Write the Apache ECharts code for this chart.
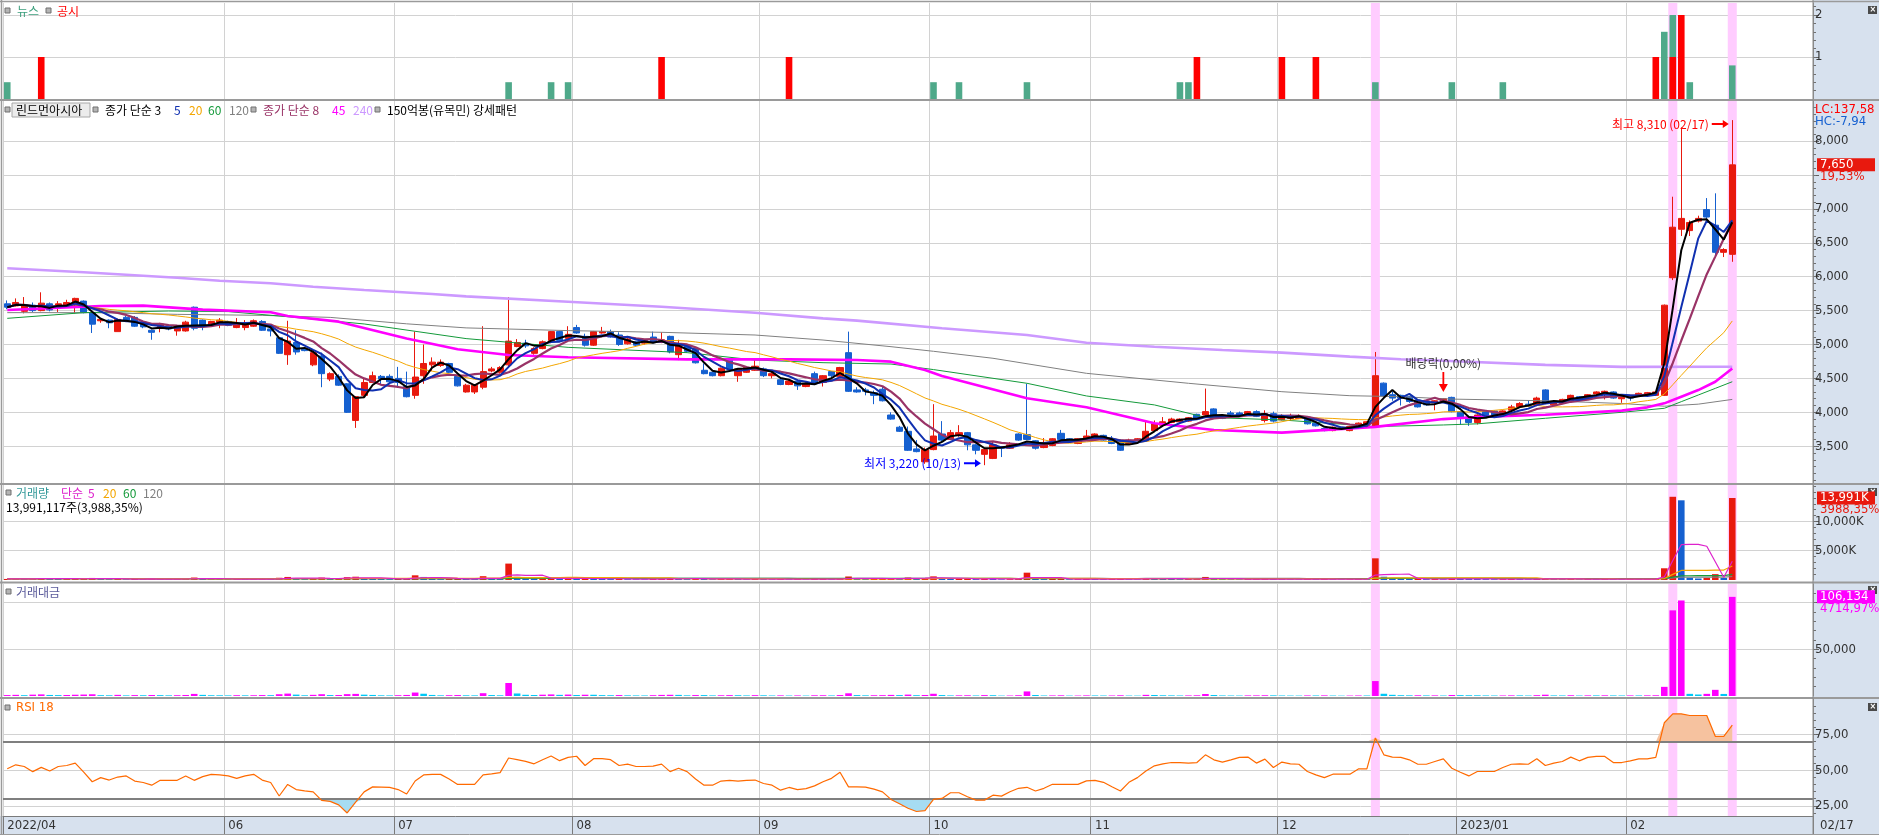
<!DOCTYPE html>
<html><head><meta charset="utf-8">
<script src="https://cdn.jsdelivr.net/npm/echarts@6/dist/echarts.min.js"></script>
<style>
html,body{margin:0;padding:0;background:#fff;}
#wrap{position:relative;width:1879px;height:837px;overflow:hidden;}
#rp{position:absolute;left:1813px;top:0;width:66px;height:816px;background:#d7e1ee;}
#xb{position:absolute;left:0;top:816px;width:1879px;height:18px;background:#d7e1ee;}
#c{position:absolute;left:0;top:0;width:1879px;height:837px;}
</style>
</head><body>
<div id="wrap"><div id="rp"></div><div id="xb"></div><div id="c"></div></div>
<script>
// ---------------- DATA ----------------
const dates = [
'2022/04/25','2022/04/26','2022/04/27','2022/04/28','2022/04/29',
'2022/05/02','2022/05/03','2022/05/04','2022/05/06','2022/05/09','2022/05/10','2022/05/11','2022/05/12','2022/05/13','2022/05/16','2022/05/17','2022/05/18','2022/05/19','2022/05/20','2022/05/23','2022/05/24','2022/05/25','2022/05/26','2022/05/27','2022/05/30','2022/05/31',
'2022/06/02','2022/06/03','2022/06/07','2022/06/08','2022/06/09','2022/06/10','2022/06/13','2022/06/14','2022/06/15','2022/06/16','2022/06/17','2022/06/20','2022/06/21','2022/06/22','2022/06/23','2022/06/24','2022/06/27','2022/06/28','2022/06/29','2022/06/30',
'2022/07/01','2022/07/04','2022/07/05','2022/07/06','2022/07/07','2022/07/08','2022/07/11','2022/07/12','2022/07/13','2022/07/14','2022/07/15','2022/07/18','2022/07/19','2022/07/20','2022/07/21','2022/07/22','2022/07/25','2022/07/26','2022/07/27','2022/07/28','2022/07/29',
'2022/08/01','2022/08/02','2022/08/03','2022/08/04','2022/08/05','2022/08/08','2022/08/09','2022/08/10','2022/08/11','2022/08/12','2022/08/16','2022/08/17','2022/08/18','2022/08/19','2022/08/22','2022/08/23','2022/08/24','2022/08/25','2022/08/26','2022/08/29','2022/08/30','2022/08/31',
'2022/09/01','2022/09/02','2022/09/05','2022/09/06','2022/09/07','2022/09/08','2022/09/13','2022/09/14','2022/09/15','2022/09/16','2022/09/19','2022/09/20','2022/09/21','2022/09/22','2022/09/23','2022/09/26','2022/09/27','2022/09/28','2022/09/29','2022/09/30',
'2022/10/04','2022/10/05','2022/10/06','2022/10/07','2022/10/11','2022/10/12','2022/10/13','2022/10/14','2022/10/17','2022/10/18','2022/10/19','2022/10/20','2022/10/21','2022/10/24','2022/10/25','2022/10/26','2022/10/27','2022/10/28','2022/10/31',
'2022/11/01','2022/11/02','2022/11/03','2022/11/04','2022/11/07','2022/11/08','2022/11/09','2022/11/10','2022/11/11','2022/11/14','2022/11/15','2022/11/16','2022/11/17','2022/11/18','2022/11/21','2022/11/22','2022/11/23','2022/11/24','2022/11/25','2022/11/28','2022/11/29','2022/11/30',
'2022/12/01','2022/12/02','2022/12/05','2022/12/06','2022/12/07','2022/12/08','2022/12/09','2022/12/12','2022/12/13','2022/12/14','2022/12/15','2022/12/16','2022/12/19','2022/12/20','2022/12/21','2022/12/22','2022/12/23','2022/12/26','2022/12/27','2022/12/28','2022/12/29',
'2023/01/02','2023/01/03','2023/01/04','2023/01/05','2023/01/06','2023/01/09','2023/01/10','2023/01/11','2023/01/12','2023/01/13','2023/01/16','2023/01/17','2023/01/18','2023/01/19','2023/01/20','2023/01/25','2023/01/26','2023/01/27','2023/01/30','2023/01/31',
'2023/02/01','2023/02/02','2023/02/03','2023/02/06','2023/02/07','2023/02/08','2023/02/09','2023/02/10','2023/02/13','2023/02/14','2023/02/15','2023/02/16','2023/02/17'
];
const monthTickDates  = ['2022/04/25','2022/06/02','2022/07/01','2022/08/01','2022/09/01','2022/10/04','2022/11/01','2022/12/01','2023/01/02','2023/02/01'];
const monthTickLabels = ['2022/04','06','07','08','09','10','11','12','2023/01','02'];

const opens = [
5600,5570,5490,5580,5500,5600,5550,5560,5620,5640,
5470,5350,5360,5190,5400,5400,5330,5210,5250,5270,
5200,5200,5550,5360,5280,5330,5340,5250,5250,5270,
5340,5230,5100,4850,5030,4930,4700,4830,4490,4530,
4420,3880,4250,4440,4530,4530,4500,4380,4250,4540,
4700,4690,4720,4530,4300,4300,4370,4610,4590,4700,
4970,5020,4870,4940,5060,5190,5090,5250,5120,4990,
5170,5190,5140,5010,5040,5020,5110,5030,5120,4850,
4990,4940,4620,4590,4540,4790,4540,4590,4620,4640,
4540,4480,4410,4460,4380,4570,4440,4600,4530,4880,
4330,4330,4290,4340,3960,3780,3720,3460,3270,3450,
3680,3600,3660,3700,3520,3380,3320,3490,3470,3680,
3670,3580,3480,3510,3690,3610,3540,3610,3610,3660,
3610,3590,3540,3590,3580,3730,3810,3850,3860,3870,
3970,3960,4050,3950,3990,3990,3970,4010,3880,3980,
3890,3910,3910,3930,3840,3760,3730,3770,3730,3790,
3810,3790,4430,4260,4250,4230,4180,4150,4140,4160,
4220,4010,3930,3850,4010,4020,3960,4030,4080,4120,
4100,4330,4110,4130,4160,4230,4200,4270,4290,4300,
4200,4230,4250,4260,4250,4250,5985,6700,6680,6820,
6990,6760,6360,6330];
const closes = [
5550,5620,5580,5500,5610,5510,5600,5620,5680,5470,
5300,5370,5320,5370,5360,5270,5260,5180,5300,5230,
5270,5330,5240,5280,5340,5360,5280,5310,5300,5350,
5210,5200,4870,5050,4890,4910,4880,4570,4570,4400,
4000,4230,4440,4540,4490,4450,4440,4230,4520,4720,
4740,4740,4590,4390,4400,4400,4600,4640,4660,5050,
5030,4980,4940,5040,5190,5060,5150,5170,4990,5190,
5190,5110,5000,5080,4990,5060,5030,5070,4890,4990,
4900,4730,4570,4540,4650,4640,4640,4660,4680,4540,
4570,4410,4460,4390,4420,4430,4540,4540,4660,4310,
4300,4310,4250,4170,3900,3720,3440,3420,3450,3650,
3590,3700,3700,3520,3440,3450,3520,3470,3520,3590,
3600,3470,3550,3610,3600,3580,3610,3650,3680,3590,
3540,3440,3590,3610,3720,3830,3860,3900,3900,3920,
3900,4010,3960,3910,3970,3950,4010,3940,3980,3870,
3950,3940,3940,3830,3800,3730,3780,3750,3790,3840,
3860,4540,4240,4210,4210,4160,4080,4110,4170,4200,
4010,3930,3850,3960,3950,3950,4020,4080,4130,4090,
4210,4130,4160,4190,4250,4200,4260,4300,4310,4210,
4220,4210,4280,4290,4300,5580,6730,6860,6800,6860,
6880,6360,6400,7650];
const highs = [
5650,5680,5700,5620,5770,5620,5640,5660,5690,5650,
5480,5390,5370,5380,5420,5420,5340,5220,5320,5290,
5280,5350,5560,5370,5350,5390,5350,5390,5360,5370,
5360,5240,5120,5350,5210,4960,4900,4880,4590,4560,
4430,4240,4510,4600,4550,4560,4670,4600,5190,5000,
4810,4780,4730,4550,4420,4410,5270,4670,4680,5700,
5080,5070,4960,5060,5200,5200,5270,5290,5160,5200,
5260,5220,5180,5100,5050,5080,5190,5180,5130,5070,
5000,4950,4720,4600,4660,4800,4650,4680,4790,4660,
4600,4490,4480,4480,4440,4600,4550,4610,4670,5190,
4370,4360,4320,4380,4000,3800,3790,3590,3480,4120,
3870,3740,3810,3710,3530,3470,3560,3500,3560,3690,
4420,3590,3620,3620,3740,3620,3620,3740,3690,3670,
3650,3600,3610,3620,3860,3880,3930,3920,3910,3930,
3980,4350,4060,3970,4020,4010,4020,4030,4030,4010,
3970,3980,3970,3940,3860,3770,3790,3780,3800,3850,
3870,4890,4440,4310,4260,4240,4190,4170,4180,4210,
4230,4020,3950,3970,4020,4030,4030,4110,4150,4180,
4230,4340,4170,4200,4260,4240,4270,4310,4320,4310,
4230,4240,4290,4300,4310,5590,7180,8200,6830,6900,
7160,7230,6420,8310];
const lows = [
5520,5560,5460,5480,5490,5490,5480,5540,5460,5460,
5170,5320,5240,5190,5350,5260,5240,5070,5180,5210,
5130,5190,5210,5210,5270,5240,5270,5240,5210,5260,
5200,5120,4860,4700,4850,4900,4680,4370,4460,4390,
3990,3770,4210,4430,4400,4430,4360,4220,4200,4420,
4610,4670,4580,4380,4290,4270,4340,4590,4570,4680,
4960,4950,4850,4930,5020,5040,5080,5160,4970,4980,
5160,5100,4980,5000,4980,5000,5020,5020,4870,4770,
4880,4720,4560,4530,4530,4620,4450,4580,4610,4520,
4500,4400,4400,4330,4370,4420,4380,4520,4520,4300,
4290,4250,4120,4160,3890,3710,3430,3410,3240,3440,
3550,3590,3640,3440,3380,3220,3310,3340,3460,3580,
3590,3450,3470,3500,3590,3570,3530,3600,3600,3580,
3530,3430,3520,3580,3570,3720,3800,3840,3850,3860,
3890,3950,3950,3900,3960,3940,3960,3930,3850,3850,
3880,3880,3900,3820,3790,3720,3720,3740,3720,3780,
3800,3780,4230,4170,4100,4140,4070,4100,4030,4150,
4000,3820,3800,3820,3940,3940,3950,4020,4070,4080,
4090,4120,4100,4120,4150,4190,4190,4260,4190,4200,
4140,4170,4240,4250,4240,4240,5950,6600,6600,6800,
6850,6290,6290,6220];

// long moving averages: [day index, value]
const ma45Pts  = [[0,5509],[11,5568],[16,5573],[23,5515],[31,5475],[33,5420],[39,5337],[47,5090],[53,4929],[59,4845],[66,4811],[80,4781],[92,4781],[100,4771],[104,4747],[108,4624],[110,4535],[120,4206],[127,4074],[135,3838],[142,3739],[150,3700],[161,3785],[169,3900],[173,3930],[181,3965],[190,4025],[193,4073],[195,4132],[197,4230],[199,4328],[201,4450],[203,4647]];
const ma60Pts  = [[0,5386],[9,5470],[19,5494],[26,5485],[33,5410],[42,5303],[54,5087],[66,4958],[80,4880],[88,4771],[96,4732],[104,4712],[109,4630],[120,4428],[127,4241],[135,4109],[141,3926],[150,3887],[161,3790],[169,3813],[173,3830],[181,3912],[190,4000],[195,4059],[197,4157],[199,4255],[201,4353],[203,4451]];
const ma120Pts = [[0,5470],[10,5470],[20,5445],[30,5430],[38,5400],[47,5305],[54,5245],[66,5205],[77,5180],[88,5140],[96,5066],[104,4968],[109,4900],[116,4797],[127,4575],[139,4428],[150,4304],[158,4245],[164,4230],[170,4195],[181,4170],[190,4130],[195,4090],[199,4120],[203,4190]];
const ma240Pts = [[0,6124],[9,6065],[20,5985],[25,5941],[31,5903],[36,5853],[42,5804],[50,5745],[54,5710],[66,5631],[77,5558],[88,5469],[96,5386],[100,5352],[110,5240],[120,5140],[127,5027],[135,4968],[143,4919],[150,4880],[158,4821],[164,4782],[169,4761],[181,4700],[190,4670],[203,4672]];

const volumes = [ // thousand shares
180,220,150,260,310,200,170,190,240,280,
350,160,140,230,120,180,150,210,170,130,
160,200,420,230,150,140,120,160,130,150,
190,170,380,520,300,150,260,410,220,240,
480,560,330,250,160,140,190,260,800,520,
240,150,180,230,170,150,650,220,160,2800,
540,260,210,280,330,240,300,210,270,260,
180,160,200,140,120,110,170,230,260,240,
150,230,210,140,170,200,180,130,190,160,
120,150,110,140,100,170,180,130,220,600,
230,160,190,210,300,260,420,250,330,620,
280,170,190,220,160,280,240,120,140,230,
1250,300,150,170,200,120,130,180,160,140,
150,220,130,110,330,280,200,170,140,160,
190,520,260,150,130,120,160,170,200,180,
140,120,110,160,150,180,130,100,120,150,
140,3700,560,300,200,170,190,150,160,120,
260,230,210,190,150,130,140,170,160,120,
210,330,150,140,190,120,160,150,170,140,
130,150,140,160,180,2000,14200,13600,380,260,
360,1000,342,13991];
const tradeValues = [ // million KRW
1000,1230,840,1440,1730,1110,950,1060,1350,1550,
1860,860,750,1220,650,960,800,1100,900,690,
840,1050,2250,1210,800,750,640,850,690,800,
1000,880,1900,2580,1490,740,1240,1920,1000,1070,
2000,2260,1440,1130,720,630,850,1120,3700,2430,
1130,710,840,1020,740,660,3000,1020,740,13900,
2710,1300,1040,1400,1690,1230,1540,1090,1360,1330,
920,820,1010,710,600,560,860,1170,1290,1190,
710,1000,960,640,780,930,830,600,890,740,
540,670,490,620,440,760,810,590,1010,2900,
990,690,800,890,1180,970,1500,860,1100,2400,
1000,620,700,790,560,950,830,420,490,830,
4900,1060,530,610,730,430,470,660,580,510,
540,770,460,400,1220,1060,770,660,540,620,
750,2150,1040,590,520,470,640,670,790,700,
550,470,430,620,570,670,490,370,450,570,
540,16000,2400,1270,840,710,780,620,660,500,
1060,910,810,750,590,510,560,690,660,500,
880,1380,620,590,800,500,680,650,730,600,
550,630,600,690,770,9800,91700,102300,2300,1600,
2300,6600,2204,106134];
const rsi18 = [
51,53.8,52.6,49,52,49.5,52.6,53.3,55,48.6,
41.9,44.8,43.1,45.2,46,42.4,41.4,39.5,42.9,42.9,
42.9,46,42.9,45.5,47.1,46.7,46,44.3,46,47.1,
43.1,41.4,31.9,40,36.4,35.5,34.8,28.8,28.1,25.7,
20,27.6,34.8,38.3,38.1,37.9,36.4,33.3,42.4,46.7,
47.1,47.1,43.8,40,40,40,46.7,47.4,48.3,58.6,
57.4,56.2,54.5,57.4,60,56.7,59,59.8,53.3,58.1,
58.1,57.4,53.3,54.3,52.6,52.6,52.9,54.3,49,51.4,
49,43.8,39.5,39.5,42.4,42.9,42.4,42.9,43.1,40.7,
39.5,36,37.9,36.4,37.1,39,41.9,44.3,48.6,38.3,
38.3,38.1,36.7,34.8,29.5,26.4,23.3,21,21.7,29.5,
30.2,34.2,34.2,31.4,29,29,32.5,31.8,34.9,37.3,
38,35.4,37.3,40.1,40.1,40.1,40.1,42.5,42.9,41.5,
38.4,35.4,41.5,44.8,49.5,53.1,54.5,55.4,55.4,55,
55.4,60.8,57.3,55.7,57.3,59,59.2,55,57.8,51.9,
55.7,54.5,54.2,49.1,46.7,44.8,47.2,47.2,47.2,50.9,
50.9,72.6,60.8,59.2,59,57.3,54.2,54.2,56.1,58,
51.4,48.6,46,49.1,49.1,49.1,51.9,54.2,54.5,54.2,
58,53.3,55,56.1,59.2,56.6,59,59.7,59.7,55.4,
55.4,56.6,58,58,59,83.3,89.6,89.6,88.4,88.4,
88.4,73.8,73.8,81.6];

const newsItems = [['2022/04/25',0.4],['2022/07/20',0.4],['2022/07/27',0.4],['2022/07/29',0.4],['2022/10/04',0.4],['2022/10/07',0.4],['2022/10/20',0.4],['2022/11/15',0.4],['2022/11/16',0.4],['2022/12/16',0.4],['2022/12/29',0.4],['2023/01/09',0.4],['2023/02/07',1.6],['2023/02/08',2],['2023/02/10',0.4],['2023/02/17',0.8]];
const disclosureItems = [['2022/04/29',1],['2022/08/16',1],['2022/09/06',1],['2022/11/17',1],['2022/12/01',1],['2022/12/07',1],['2023/02/06',1],['2023/02/08',1],['2023/02/09',2]];
const highlightDates = ['2022/12/16','2023/02/08','2023/02/17'];
const priceTicks  = [3500,4000,4500,5000,5500,6000,6500,7000,7500,8000];
const priceLabels = [3500,4000,4500,5000,5500,6000,6500,7000,8000];

// ---------------- STYLE / LAYOUT ----------------
const FN = '"Liberation Sans Narrow","DejaVu Sans Condensed","Liberation Sans",sans-serif';
const KR = '"Noto Sans CJK KR","Noto Sans",sans-serif';
const UP = '#e8190e', DN = '#1560d0';
const PAD = ['p1','p2','p3','p4','p5','p6','p7','p8','p9'];
const cats = dates.concat(PAD);
const monthIdx = monthTickDates.map(d => dates.indexOf(d));
const isMonth = (i) => monthIdx.indexOf(i) >= 0;
const N = dates.length;

function sma(arr, n) { const out = []; let s = 0;
  for (let i = 0; i < arr.length; i++) { s += arr[i]; if (i >= n) s -= arr[i - n]; out.push(+(s / Math.min(i + 1, n)).toFixed(2)); }
  return out; }
function range(a, b, s) { const r = []; for (let v = a; v <= b + 1e-9; v += s) r.push(+v.toFixed(4)); return r; }
const comma = (v) => Math.round(v).toLocaleString('en-US');

const GRIDS = [
  {left: 3, right: 66, top: 3,   height: 96},
  {left: 3, right: 66, top: 101, height: 382},
  {left: 3, right: 66, top: 485, height: 95},
  {left: 3, right: 66, top: 584, height: 112},
  {left: 3, right: 66, top: 699, height: 117}
];
const YR = [[0, 2.2857], [2957.2, 8591.7], [0, 16212], [0, 119914], [17.86, 100]];

function xAx(g, show) {
  return { type: 'category', gridIndex: g, data: cats, boundaryGap: true,
    axisLine: {show: show, lineStyle: {color: '#7a7a7a'}},
    axisTick: {show: show, interval: (i) => isMonth(i), length: 18, lineStyle: {color: '#7a7a7a'}},
    axisLabel: {show: show, interval: (i) => isMonth(i), align: 'left', margin: 3, color: '#333', fontFamily: FN, fontSize: 13,
      formatter: (v) => { const k = monthTickDates.indexOf(v); return k >= 0 ? monthTickLabels[k] : ''; }},
    splitLine: {show: true, interval: (i) => isMonth(i), lineStyle: {color: '#d2d2d2'}} };
}
function xHidden(g) { return {type: 'category', gridIndex: g, data: cats, boundaryGap: true, show: false}; }
function mainY(g, ticks, labels, fmt) {
  return { type: 'value', gridIndex: g, position: 'right', min: YR[g][0], max: YR[g][1],
    axisLine: {show: true, lineStyle: {color: '#8a8a8a'}},
    axisTick: {show: true, customValues: ticks, length: 6, lineStyle: {color: '#606060'}},
    axisLabel: {show: true, customValues: labels, formatter: fmt, color: '#333', margin: 2, fontFamily: FN, fontSize: 13},
    splitLine: {show: true, lineStyle: {color: '#d2d2d2'}} };
}
function minorY(g, ticks) {
  return { type: 'value', gridIndex: g, position: 'right', min: YR[g][0], max: YR[g][1],
    axisLine: {show: false}, axisTick: {show: true, customValues: ticks, length: 3, lineStyle: {color: '#707070'}},
    axisLabel: {show: false}, splitLine: {show: false} };
}

const xAxes = [xAx(0,false), xAx(1,false), xAx(2,false), xAx(3,false), xAx(4,true),
               xHidden(0), xHidden(1), xHidden(2), xHidden(3), xHidden(4)];
const yAxes = [
  mainY(0, [0,1,2], [1,2], (v) => String(v)),                       // 0
  mainY(1, priceTicks, priceLabels, comma),                          // 1
  minorY(1, range(3000,8500,100)),                                    // 2
  mainY(2, [5000,10000], [5000,10000], (v) => comma(v) + 'K'),        // 3
  minorY(2, range(1000,16000,1000)),                                  // 4
  mainY(3, [50000,100000], [50000], comma),                           // 5
  minorY(3, range(10000,110000,10000)),                               // 6
  mainY(4, [25,50,75], [25,50,75], (v) => v.toFixed(2).replace('.', ',')), // 7
  minorY(4, range(20,95,5)),                                          // 8
  minorY(0, range(0.2,2.2,0.2))                                       // 9
];
const mainYIdx = [0, 1, 3, 5, 7];
const BIG = [100, 1e6, 1e6, 1e7, 1000];

const series = [];
// highlighted day bands
for (let g = 0; g < 5; g++) {
  series.push({ type: 'bar', xAxisIndex: 5 + g, yAxisIndex: mainYIdx[g], silent: true, z: 1, barWidth: 9,
    itemStyle: {color: '#ffccff'}, data: dates.map((d) => highlightDates.indexOf(d) >= 0 ? BIG[g] : null) });
}
// news / disclosures
series.push({ type: 'bar', xAxisIndex: 0, yAxisIndex: 0, barWidth: 6.6, barGap: '-100%', z: 2, silent: true,
  itemStyle: {color: '#4fa98a'}, data: newsItems });
series.push({ type: 'bar', xAxisIndex: 0, yAxisIndex: 0, barWidth: 6.6, barGap: '-100%', z: 3, silent: true,
  itemStyle: {color: '#ff0000'}, data: disclosureItems });

// price
const candleData = dates.map((d, i) => [opens[i], closes[i], lows[i], highs[i]]);
const downArrow = 'path://M4,0 L6,0 L6,12 L10,12 L5,20 L0,12 L4,12 Z';
const rightArrow = 'path://M0,3 L11,3 L11,0 L17,4 L11,8 L11,5 L0,5 Z';
const iLow = 115, iHigh = 203, iExDiv = 169;
series.push({ type: 'candlestick', xAxisIndex: 1, yAxisIndex: 1, z: 3, barWidth: 6.6, silent: true, data: candleData,
  itemStyle: {color: UP, color0: DN, borderColor: UP, borderColor0: DN, borderWidth: 1},
  markPoint: { silent: true, animation: false, data: [
    { coord: [dates[iLow], lows[iLow]], symbol: rightArrow, symbolSize: [17, 8], symbolOffset: [-12, -2],
      itemStyle: {color: '#0000ff'},
      label: {show: true, position: 'left', distance: 3, formatter: '최저 3,220 (10/13)', color: '#0000ff', fontFamily: KR, fontSize: 12} },
    { coord: [dates[iHigh], highs[iHigh]], symbol: rightArrow, symbolSize: [17, 8], symbolOffset: [-12, 4],
      itemStyle: {color: '#ff0000'},
      label: {show: true, position: 'left', distance: 3, formatter: '최고 8,310 (02/17)', color: '#ff0000', fontFamily: KR, fontSize: 12} },
    { coord: [dates[iExDiv], highs[iExDiv]], symbol: downArrow, symbolSize: [9, 20], symbolOffset: [0, -16],
      itemStyle: {color: '#ff0000'},
      label: {show: true, position: 'top', distance: 3, formatter: '배당락(0,00%)', color: '#333', fontFamily: KR, fontSize: 12} }
  ]}
});
function maLine(data, color, width, z) {
  return { type: 'line', xAxisIndex: 1, yAxisIndex: 1, data: data, symbol: 'none', showSymbol: false, silent: true,
    z: z || 4, lineStyle: {color: color, width: width}, connectNulls: true };
}
series.push(maLine(ma240Pts, '#cc99ff', 2.6, 4));
series.push(maLine(ma120Pts, '#808080', 1, 4));
series.push(maLine(ma60Pts, '#149a3a', 1, 4));
series.push(maLine(ma45Pts, '#ff00ff', 2.6, 4));
series.push(maLine(sma(closes, 20), '#f3a600', 1, 4));
series.push(maLine(sma(closes, 8), '#993366', 2.2, 5));
series.push(maLine(sma(closes, 5), '#1030b0', 2, 5));
series.push(maLine(sma(closes, 3), '#000000', 2, 6));

// volume
series.push({ type: 'bar', xAxisIndex: 2, yAxisIndex: 3, barWidth: 6.6, z: 2, silent: true,
  data: volumes.map((v, i) => ({value: v, itemStyle: {color: (i > 0 && v < volumes[i-1]) ? DN : UP}})) });
function vLine(data, color) {
  return { type: 'line', xAxisIndex: 2, yAxisIndex: 3, data: data, symbol: 'none', silent: true, z: 4, lineStyle: {color: color, width: 1.2} };
}
series.push(vLine(sma(volumes, 120), '#808080'));
series.push(vLine(sma(volumes, 60), '#149a3a'));
series.push(vLine(sma(volumes, 20), '#f3a600'));
series.push(vLine(sma(volumes, 5), '#dd22cc'));

// trading value
series.push({ type: 'bar', xAxisIndex: 3, yAxisIndex: 5, barWidth: 6.6, z: 2, silent: true,
  data: tradeValues.map((v, i) => ({value: v, itemStyle: {color: (i > 0 && v < tradeValues[i-1]) ? '#00c8f5' : '#ff00ff'}})) });

// RSI with threshold fills
const loBase = rsi18.map((v) => Math.min(v, 30));
const loFill = rsi18.map((v) => +(30 - Math.min(v, 30)).toFixed(2));
const hiBase = rsi18.map(() => 70);
const hiFill = rsi18.map((v) => +(Math.max(v, 70) - 70).toFixed(2));
function rs(data, stack, area) {
  return { type: 'line', xAxisIndex: 4, yAxisIndex: 7, data: data, stack: stack, symbol: 'none', silent: true, z: 2,
    lineStyle: {opacity: 0}, areaStyle: area ? {color: area, opacity: 1} : undefined };
}
series.push(rs(loBase, 'lo', null));
series.push(rs(loFill, 'lo', '#a6dcf2'));
series.push(rs(hiBase, 'hi', null));
series.push(rs(hiFill, 'hi', '#f6c29f'));
series.push({ type: 'line', xAxisIndex: 4, yAxisIndex: 7, data: rsi18, symbol: 'none', silent: true, z: 5,
  lineStyle: {color: '#ff6a00', width: 1.2},
  markLine: { silent: true, symbol: 'none', animation: false, label: {show: false},
    lineStyle: {color: '#7f7f7f', width: 2, type: 'solid'}, data: [{yAxis: 70}, {yAxis: 30}] } });

const option = {
  animation: false,
  backgroundColor: 'transparent',
  textStyle: {fontFamily: FN},
  grid: GRIDS,
  xAxis: xAxes,
  yAxis: yAxes,
  series: series
};

const chart = echarts.init(document.getElementById('c'), null, {renderer: 'canvas'});
chart.setOption(option);

// ---------------- DECORATION (legends, separators, value boxes) ----------------
const G = [];
function txt(x, y, t, c, font, extra) { G.push(Object.assign({type: 'text', x: x, y: y, silent: true, z: 20,
  style: {text: t, fill: c, font: font || ('12px ' + KR), verticalAlign: 'middle', align: 'left'}}, extra || {})); }
function sq(x, y) { G.push({type: 'rect', x: x, y: y, silent: true, z: 20, shape: {x: 0, y: 0, width: 5, height: 5},
  style: {fill: '#b4b4b4', stroke: '#707070', lineWidth: 1}}); }
function ln(x1, y1, x2, y2, c, w) { G.push({type: 'line', silent: true, z: 19, shape: {x1: x1, y1: y1, x2: x2, y2: y2},
  style: {stroke: c, lineWidth: w}}); }
function closeIcon(y) { G.push({type: 'rect', x: 1868, y: y, silent: true, z: 20, shape: {x: 0, y: 0, width: 9, height: 8},
  style: {fill: '#4a4a4a'}}); txt(1869.5, y + 4, '×', '#fff', 'bold 8px "DejaVu Sans"'); }

// frame & separators
ln(0, 1.5, 1879, 1.5, '#9a9a9a', 1.5);
ln(1.5, 0, 1.5, 834, '#9a9a9a', 1.5);
ln(0, 100, 1879, 100, '#9a9a9a', 2);
ln(0, 484, 1879, 484, '#9a9a9a', 2);
ln(0, 582.5, 1879, 582.5, '#9a9a9a', 2);
ln(0, 698, 1879, 698, '#9a9a9a', 2);
ln(1813, 0, 1813, 834, '#8a8a8a', 1);
ln(0, 834.5, 1879, 834.5, '#9a9a9a', 1);
closeIcon(6); closeIcon(488); closeIcon(586); closeIcon(703);

// news legend
sq(5, 8); txt(17, 11, '뉴스', '#3c9f7d'); sq(46, 8); txt(57, 11, '공시', '#ff0000');
// price legend
sq(5, 107);
G.push({type: 'rect', x: 12, y: 103, silent: true, z: 19, shape: {x: 0, y: 0, width: 78, height: 14},
  style: {fill: '#ececec', stroke: '#a8a8a8', lineWidth: 1}});
txt(16, 110, '린드먼아시아', '#000');
sq(93, 107);
txt(105, 110, '종가 단순 3', '#000');
txt(174, 110, '5', '#1030b0');
txt(189, 110, '20', '#f3a600');
txt(208, 110, '60', '#149a3a');
txt(229, 110, '120', '#808080');
sq(251, 107);
txt(263, 110, '종가 단순 8', '#993366');
txt(332, 110, '45', '#ff00ff');
txt(353, 110, '240', '#cc99ff');
sq(375, 107);
txt(387, 110, '150억봉(유목민) 강세패턴', '#000');
// volume legend
sq(6, 490);
txt(16, 493, '거래량', '#339999');
txt(61, 493, '단순', '#dd22cc');
txt(88, 493, '5', '#dd22cc');
txt(103, 493, '20', '#f3a600');
txt(123, 493, '60', '#149a3a');
txt(143, 493, '120', '#808080');
txt(6, 507, '13,991,117주(3,988,35%)', '#000');
// trading value legend
sq(6, 589); txt(16, 592, '거래대금', '#5a5a9a');
// RSI legend
sq(5, 705); txt(16, 708, 'RSI 18', '#ff6a00', '13px ' + FN);

// right-side texts
txt(1815, 110, 'LC:137,58', '#ff0000', '13px ' + FN);
txt(1815, 122, 'HC:-7,94', '#1560d0', '13px ' + FN);
txt(1820, 825.5, '02/17', '#333', '13px ' + FN);

const last = N - 1;
const pct = ((closes[last] / closes[last - 1] - 1) * 100).toFixed(2).replace('.', ',') + '%';
function valueBox(yAxisIndex, value, text, sub, bg) {
  const y = chart.convertToPixel({yAxisIndex: yAxisIndex}, value);
  G.push({type: 'rect', x: 1817, y: y - 6.5, silent: true, z: 20, shape: {x: 0, y: 0, width: 58, height: 13}, style: {fill: bg}});
  txt(1820, y, text, '#fff', '13px ' + FN);
  txt(1820, y + 12, sub, bg, '13px ' + FN);
}
valueBox(1, closes[last], comma(closes[last]), pct, UP);
valueBox(3, volumes[last], comma(volumes[last]) + 'K', '3988,35%', UP);
valueBox(5, tradeValues[last], comma(tradeValues[last]), '4714,97%', '#ff00ff');

chart.setOption({graphic: {elements: G}});
</script>
</body></html>
